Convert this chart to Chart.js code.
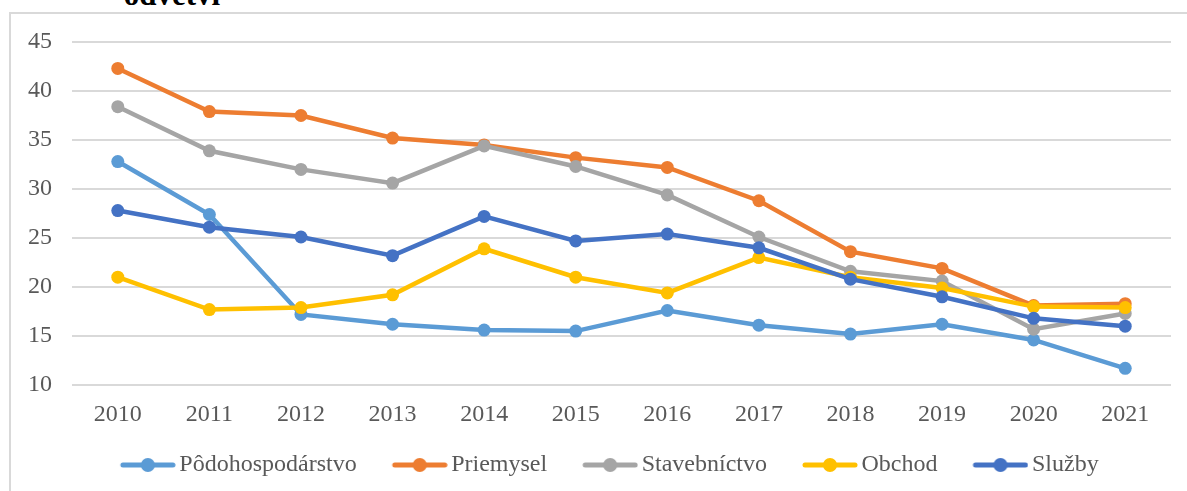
<!DOCTYPE html>
<html>
<head>
<meta charset="utf-8">
<script src="https://cdn.jsdelivr.net/npm/chart.js@4.4.1/dist/chart.umd.min.js"></script>
<style>
  body { margin: 0; background: #fff; overflow: hidden; }
  #wrap { position: relative; width: 1187px; height: 491px; overflow: hidden; }
  #frame { position: absolute; left: 9px; top: 12px; width: 1200px; height: 500px;
           border: 2px solid #d9d9d9; box-sizing: border-box; }
  #title { position: absolute; left: 0; top: -21px; width: 344px; text-align: center;
           font: bold 31px "Liberation Serif", serif; line-height: 31px; color: #000; }
  canvas { position: absolute; left: 0; top: 0; }
</style>
</head>
<body>
<div id="wrap">
  <div id="title">odvetví</div>
  <div id="frame"></div>
  <canvas id="chart" width="1187" height="491"></canvas>
</div>
<script>
// roky
var years = ['2010', '2011', '2012', '2013', '2014', '2015', '2016', '2017', '2018', '2019', '2020', '2021'];

// hodnoty podla odvetvi
var podohospodarstvo = [32.8, 27.4, 17.2, 16.2, 15.6, 15.5, 17.6, 16.1, 15.2, 16.2, 14.6, 11.7];
var priemysel        = [42.3, 37.9, 37.5, 35.2, 34.5, 33.2, 32.2, 28.8, 23.6, 21.9, 18.1, 18.3];
var stavebnictvo     = [38.4, 33.9, 32.0, 30.6, 34.4, 32.3, 29.4, 25.1, 21.6, 20.6, 15.7, 17.3];
var obchod           = [21.0, 17.7, 17.9, 19.2, 23.9, 21.0, 19.4, 23.0, 21.0, 19.9, 18.0, 17.9];
var sluzby           = [27.8, 26.1, 25.1, 23.2, 27.2, 24.7, 25.4, 24.0, 20.8, 19.0, 16.8, 16.0];

var seriesNames = ['Pôdohospodárstvo', 'Priemysel', 'Stavebníctvo', 'Obchod', 'Služby'];
var seriesColors = ['#5b9bd5', '#ed7d31', '#a5a5a5', '#ffc000', '#4472c4'];
var yTicks = [10, 15, 20, 25, 30, 35, 40, 45];

var textColor = '#595959';
var serif = "'Liberation Serif', 'Times New Roman', serif";
var fontSize = 24;

Chart.defaults.font.family = serif;
Chart.defaults.font.size = fontSize;
Chart.defaults.color = textColor;

// znacka do legendy: ciara s bodkou ako v Exceli
// obrazok ma na oboch stranach priehladny okraj, ciara je posunuta doprava
var padLeft = 30;
function legendMarker(color) {
    var c = document.createElement('canvas');
    c.width = 56 + padLeft;
    c.height = 16;
    var g = c.getContext('2d');
    g.strokeStyle = color;
    g.lineWidth = 5;
    g.lineCap = 'round';
    g.beginPath();
    g.moveTo(padLeft + 3, 8);
    g.lineTo(padLeft + 53, 8);
    g.stroke();
    g.fillStyle = color;
    g.beginPath();
    g.arc(padLeft + 28, 8, 7, 0, Math.PI * 2);
    g.fill();
    return c;
}
var markers = seriesColors.map(legendMarker);

var allData = [podohospodarstvo, priemysel, stavebnictvo, obchod, sluzby];

function drawChart() {
    var datasets = allData.map(function(values, i) {
        return {
            label: seriesNames[i],
            data: values,
            borderColor: seriesColors[i],
            backgroundColor: seriesColors[i],
            pointBackgroundColor: seriesColors[i],
            pointBorderColor: seriesColors[i],
            borderWidth: 4.5,
            pointRadius: 6.5,
            pointBorderWidth: 0,
            pointHoverRadius: 6.5,
            tension: 0,
            order: allData.length - i // posledna seria navrchu
        };
    });

    new Chart(document.getElementById('chart'), {
        type: 'line',
        data: { labels: years, datasets: datasets },
        options: {
            responsive: false,
            animation: false,
            layout: { padding: { left: 26, right: 16, top: 42, bottom: 4 } },
            scales: {
                x: {
                    offset: true,
                    grid: { display: false, drawTicks: false },
                    border: { display: false },
                    ticks: { color: textColor, font: { family: serif, size: fontSize }, padding: 15 },
                    afterFit: function(s) { s.height = 54.5; }
                },
                y: {
                    min: yTicks[0],
                    max: yTicks[yTicks.length - 1],
                    afterBuildTicks: function(s) {
                        s.ticks = yTicks.map(function(v) { return { value: v }; });
                    },
                    grid: { color: '#d9d9d9', lineWidth: 2, drawTicks: false },
                    border: { display: false },
                    ticks: { color: textColor, font: { family: serif, size: fontSize }, padding: 20 },
                    afterFit: function(s) { s.width = 46; }
                }
            },
            plugins: {
                legend: {
                    position: 'bottom',
                    labels: {
                        usePointStyle: true,
                        pointStyleWidth: 69,
                        padding: 13.5,
                        color: textColor,
                        font: { family: serif, size: fontSize },
                        sort: function(a, b) { return a.datasetIndex - b.datasetIndex; },
                        generateLabels: function(ch) {
                            var items = Chart.defaults.plugins.legend.labels.generateLabels(ch);
                            items.forEach(function(it) {
                                it.pointStyle = markers[it.datasetIndex];
                                it.fontColor = textColor;
                            });
                            return items;
                        }
                    }
                },
                tooltip: { enabled: false }
            }
        }
    });
}

// pockat na pismo, inak canvas kresli bezpatkove
document.fonts.load(fontSize + "px 'Liberation Serif'").then(drawChart, drawChart);
</script>
</body>
</html>
